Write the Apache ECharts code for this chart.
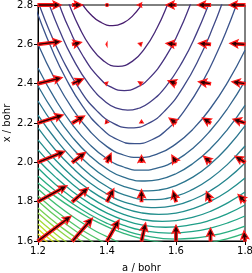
<!DOCTYPE html>
<html><head><meta charset="utf-8">
<script src="https://cdn.jsdelivr.net/npm/echarts@6/dist/echarts.min.js"></script>
<style>html,body{margin:0;padding:0;background:#fff}#c{width:252px;height:273px}</style>
</head><body><div id="c"></div>
<script>
// Axis ticks
const xTicks = [1.2, 1.4, 1.6, 1.8];
const yTicks = [1.6, 1.8, 2.0, 2.2, 2.4, 2.6, 2.8];

// Contour lines (a, x), from the lowest level (top) to the highest (bottom-left)
const c01 = [[1.31,2.854],[1.33,2.80],[1.35,2.757],[1.38,2.714],[1.417,2.695],[1.45,2.712],[1.475,2.746],[1.50,2.80],[1.52,2.856]];
const c02 = [[1.27,2.90],[1.291,2.80],[1.32,2.685],[1.35,2.594],[1.39,2.516],[1.432,2.488],[1.475,2.516],[1.51,2.581],[1.545,2.683],[1.575,2.80],[1.595,2.895]];
const c03 = [[1.24,2.907],[1.262,2.80],[1.29,2.68],[1.33,2.542],[1.38,2.425],[1.415,2.38],[1.45,2.365],[1.485,2.38],[1.52,2.423],[1.57,2.536],[1.61,2.67],[1.641,2.80],[1.66,2.89]];
const c04 = [[1.21,2.915],[1.233,2.80],[1.26,2.681],[1.30,2.531],[1.35,2.391],[1.40,2.302],[1.43,2.274],[1.46,2.265],[1.49,2.274],[1.52,2.30],[1.57,2.384],[1.62,2.516],[1.66,2.657],[1.694,2.80],[1.715,2.902]];
const c05 = [[1.19,2.865],[1.2,2.817],[1.23,2.682],[1.27,2.527],[1.32,2.373],[1.37,2.263],[1.42,2.197],[1.47,2.175],[1.52,2.198],[1.57,2.266],[1.62,2.38],[1.67,2.539],[1.71,2.699],[1.732,2.80],[1.75,2.888]];
const c06 = [[1.18,2.847],[1.2,2.75],[1.24,2.576],[1.28,2.429],[1.33,2.283],[1.38,2.179],[1.43,2.116],[1.48,2.095],[1.53,2.115],[1.58,2.176],[1.63,2.277],[1.68,2.419],[1.72,2.562],[1.75,2.685],[1.775,2.80],[1.79,2.873]];
const c07 = [[1.2,2.60],[1.25,2.419],[1.30,2.272],[1.35,2.159],[1.40,2.08],[1.45,2.036],[1.49,2.025],[1.55,2.045],[1.60,2.094],[1.65,2.17],[1.70,2.275],[1.75,2.408],[1.80,2.57]];
const c08 = [[1.2,2.48],[1.25,2.321],[1.3,2.191],[1.35,2.09],[1.4,2.018],[1.45,1.975],[1.5,1.96],[1.55,1.973],[1.6,2.01],[1.65,2.073],[1.7,2.162],[1.75,2.275],[1.8,2.414]];
const c09 = [[1.2,2.388],[1.25,2.245],[1.3,2.127],[1.35,2.034],[1.4,1.966],[1.45,1.923],[1.51,1.905],[1.55,1.912],[1.6,1.942],[1.65,1.995],[1.7,2.07],[1.75,2.169],[1.8,2.29]];
const c10 = [[1.2,2.312],[1.25,2.18],[1.3,2.071],[1.35,1.984],[1.4,1.919],[1.45,1.877],[1.52,1.855],[1.55,1.859],[1.6,1.882],[1.65,1.926],[1.7,1.991],[1.75,2.078],[1.8,2.185]];
const c11 = [[1.2,2.24],[1.25,2.12],[1.3,2.019],[1.35,1.938],[1.4,1.877],[1.45,1.835],[1.53,1.81],[1.6,1.828],[1.65,1.864],[1.7,1.918],[1.75,1.991],[1.8,2.083]];
const c12 = [[1.2,2.175],[1.25,2.064],[1.3,1.972],[1.35,1.896],[1.4,1.839],[1.45,1.798],[1.54,1.77],[1.6,1.782],[1.65,1.811],[1.7,1.856],[1.75,1.918],[1.8,1.997]];
const c13 = [[1.2,2.114],[1.25,2.013],[1.3,1.928],[1.35,1.859],[1.4,1.805],[1.45,1.766],[1.5,1.743],[1.55,1.735],[1.6,1.742],[1.65,1.765],[1.7,1.802],[1.75,1.853],[1.8,1.92]];
const c14 = [[1.2,2.063],[1.25,1.969],[1.3,1.889],[1.35,1.823],[1.4,1.772],[1.45,1.734],[1.5,1.71],[1.56,1.70],[1.6,1.704],[1.65,1.721],[1.7,1.751],[1.75,1.794],[1.8,1.849]];
const c15 = [[1.2,2.012],[1.25,1.926],[1.3,1.852],[1.35,1.791],[1.4,1.742],[1.45,1.706],[1.5,1.682],[1.57,1.67],[1.65,1.684],[1.7,1.706],[1.75,1.739],[1.8,1.783]];
const c16 = [[1.2,1.971],[1.25,1.889],[1.3,1.82],[1.35,1.761],[1.4,1.714],[1.45,1.679],[1.5,1.655],[1.58,1.64],[1.65,1.649],[1.7,1.666],[1.75,1.692],[1.8,1.727]];
const c17 = [[1.2,1.93],[1.25,1.855],[1.3,1.79],[1.35,1.735],[1.4,1.69],[1.45,1.655],[1.5,1.63],[1.6,1.61],[1.65,1.614],[1.7,1.627],[1.75,1.647],[1.8,1.676]];
const c18 = [[1.2,1.895],[1.25,1.827],[1.3,1.767],[1.35,1.716],[1.4,1.673],[1.45,1.638],[1.5,1.612],[1.55,1.595],[1.63,1.584],[1.7,1.593],[1.75,1.612],[1.8,1.64]];
const c19 = [[1.2,1.864],[1.31,1.713],[1.426,1.6],[1.5,1.552],[1.65,1.513]];
const c20 = [[1.2,1.829],[1.29,1.702],[1.383,1.6],[1.46,1.539]];
const c21 = [[1.2,1.803],[1.277,1.691],[1.354,1.6],[1.43,1.531]];
const c22 = [[1.2,1.768],[1.262,1.678],[1.325,1.6],[1.40,1.525]];
const c23 = [[1.2,1.742],[1.25,1.668],[1.302,1.6],[1.38,1.516]];
const c24 = [[1.2,1.712],[1.24,1.652],[1.278,1.6],[1.36,1.505]];
const c25 = [[1.2,1.686],[1.229,1.641],[1.258,1.6],[1.34,1.498]];
const c26 = [[1.2,1.661],[1.22,1.63],[1.241,1.6],[1.32,1.499]];
const c27 = [[1.2,1.636],[1.21,1.62],[1.223,1.6],[1.30,1.494]];
const c28 = [[1.2,1.61],[1.207,1.6],[1.28,1.506]];
const contours = [c01,c02,c03,c04,c05,c06,c07,c08,c09,c10,c11,c12,c13,c14,c15,c16,c17,c18,c19,c20,c21,c22,c23,c24,c25,c26,c27,c28];

// Force arrows: grid positions and components (in a / bohr and x / bohr units)
const arrowA = [1.2, 1.3, 1.4, 1.5, 1.6, 1.7, 1.8];
const arrowX = [2.8, 2.6, 2.4, 2.2, 2.0, 1.8, 1.6];
const arrowU = [
  [0.067, 0.029, 0.000, -0.012, -0.029, -0.038, -0.046],
  [0.067, 0.026, -0.003, -0.009, -0.029, -0.035, -0.044],
  [0.070, 0.032, -0.006, -0.009, -0.023, -0.035, -0.038],
  [0.073, 0.035, -0.003, 0.000, -0.020, -0.023, -0.035],
  [0.078, 0.038, 0.012, 0.000, -0.012, -0.020, -0.029],
  [0.084, 0.046, 0.020, 0.000, -0.009, -0.012, -0.020],
  [0.096, 0.058, 0.035, 0.012, 0.000, 0.000, -0.003]
];
const arrowV = [
  [0.000, 0.000, 0.000, 0.000, 0.000, 0.000, 0.000],
  [0.015, 0.010, 0.000, 0.005, 0.005, 0.005, 0.005],
  [0.031, 0.025, 0.005, 0.010, 0.015, 0.010, 0.010],
  [0.041, 0.036, 0.015, 0.015, 0.025, 0.025, 0.020],
  [0.056, 0.051, 0.046, 0.036, 0.036, 0.031, 0.031],
  [0.081, 0.071, 0.066, 0.061, 0.056, 0.051, 0.036],
  [0.127, 0.117, 0.107, 0.092, 0.081, 0.066, 0.051]
];

// viridis colour stops
const viridisStops = ['#440154','#471365','#482475','#463480','#414487','#3b528b','#355f8d','#2f6c8e','#2a788e','#25848e','#21918c','#1e9c89','#22a884','#2fb47c','#44bf70','#5ec962','#7ad151','#9bd93c','#bddf26','#dfe318','#fde725'];
function hex2rgb(h){return [parseInt(h.slice(1,3),16),parseInt(h.slice(3,5),16),parseInt(h.slice(5,7),16)];}
function viridis(t){
  t = Math.max(0, Math.min(1, t));
  const f = t * (viridisStops.length - 1);
  const i = Math.min(Math.floor(f), viridisStops.length - 2);
  const r = f - i;
  const c0 = hex2rgb(viridisStops[i]), c1 = hex2rgb(viridisStops[i+1]);
  const c = c0.map((v, k) => Math.round(v + (c1[k] - v) * r));
  return 'rgb(' + c.join(',') + ')';
}

const FONT = 'DejaVu Sans';
const series = [];
contours.forEach((pts, i) => {
  const t = 0.08 + 0.92 * i / (contours.length - 1);
  series.push({
    type: 'line', data: pts, symbol: 'none', showSymbol: false,
    smooth: 0.5, clip: true, silent: true, z: 2,
    lineStyle: { color: viridis(t), width: 1.3 }
  });
});

const arrowData = [];
arrowX.forEach((x, r) => arrowA.forEach((a, c) => arrowData.push([a, x, arrowU[r][c], arrowV[r][c]])));

const W = 1.3, HW = 3.9, HL = 8, HAL = 7;
series.push({
  type: 'custom', data: arrowData, z: 10, silent: true, clip: false,
  encode: { x: 0, y: 1 },
  renderItem: function (params, api) {
    const a = api.value(0), x = api.value(1), u = api.value(2), v = api.value(3);
    const p0 = api.coord([a, x]);
    const p1 = api.coord([a + u, x + v]);
    const dx = p1[0] - p0[0], dy = p1[1] - p0[1];
    const L = Math.hypot(dx, dy);
    const style = { fill: '#2a0000', stroke: '#ff1a1a', lineWidth: 1.2 };
    if (L < 1) return { type: 'circle', shape: { cx: p0[0], cy: p0[1], r: 1.5 }, style: style };
    const s = Math.max(0.45, Math.min(1, L / HL));
    const w = W * s, hw = HW * s, hl = Math.min(HL * s, L), hal = Math.min(HAL * s, L);
    const loc = [[0, -w], [L - hal, -w], [L - hl, -hw], [L, 0], [L - hl, hw], [L - hal, w], [0, w]];
    const cs = dx / L, sn = dy / L;
    const pts = loc.map(p => [p0[0] + p[0] * cs - p[1] * sn, p0[1] + p[0] * sn + p[1] * cs]);
    return { type: 'polygon', shape: { points: pts }, style: style };
  }
});

const chart = echarts.init(document.getElementById('c'), null, { renderer: 'canvas' });
chart.setOption({
  animation: false,
  backgroundColor: '#fff',
  textStyle: { fontFamily: FONT },
  grid: { left: 38, right: 7, top: 5, bottom: 32, containLabel: false, outerBoundsMode: 'none',
          show: true, borderColor: '#000', borderWidth: 1, backgroundColor: 'transparent' },
  xAxis: {
    type: 'value', min: xTicks[0], max: xTicks[xTicks.length - 1], interval: 0.2,
    name: 'a / bohr', nameLocation: 'middle', nameGap: 22,
    nameTextStyle: { color: '#000', fontSize: 10, fontFamily: FONT },
    axisLine: { show: true, lineStyle: { color: '#000', width: 1 } },
    axisTick: { show: true, length: 4, lineStyle: { color: '#000' } },
    axisLabel: { color: '#000', fontSize: 10, fontFamily: FONT, margin: 5, formatter: v => v.toFixed(1) },
    splitLine: { show: false }
  },
  yAxis: {
    type: 'value', min: yTicks[0], max: yTicks[yTicks.length - 1], interval: 0.2,
    name: 'x / bohr', nameLocation: 'middle', nameGap: 26, nameMoveOverlap: false,
    nameTextStyle: { color: '#000', fontSize: 10, fontFamily: FONT },
    axisLine: { show: true, lineStyle: { color: '#000', width: 1 } },
    axisTick: { show: true, length: 4, lineStyle: { color: '#000' } },
    axisLabel: { color: '#000', fontSize: 10, fontFamily: FONT, margin: 5, formatter: v => v.toFixed(1) },
    splitLine: { show: false }
  },
  series: series
});
</script>
</body></html>
